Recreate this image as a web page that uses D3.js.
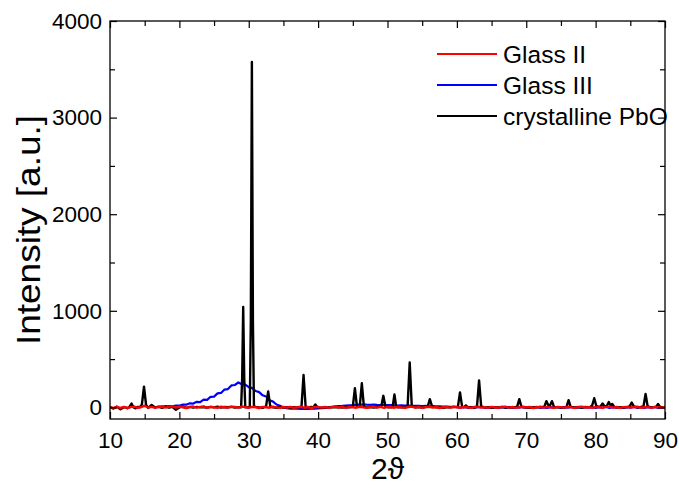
<!DOCTYPE html>
<html>
<head>
<meta charset="utf-8">
<script src="https://cdn.jsdelivr.net/npm/d3@7"></script>
<style>
  body { margin: 0; background: #fff; }
  text { font-family: "Liberation Sans", Arial, sans-serif; fill: #000; }
</style>
</head>
<body>
<svg id="chart" width="679" height="485"></svg>
<script>
// Axis ticks
const xMajorTicks = [10, 20, 30, 40, 50, 60, 70, 80, 90];
const xMinorTicks = [15, 25, 35, 45, 55, 65, 75, 85];
const yMajorTicks = [0, 1000, 2000, 3000, 4000];
const yMinorTicks = [500, 1500, 2500, 3500];

const seriesNames = ["Glass II", "Glass III", "crystalline PbO"];
const seriesColors = ["#ff0000", "#0000ff", "#000000"];

// Glass II: [2θ, intensity]
const glassII = [
  [10,2],[10.5,-8],[11,5],[11.5,-4],[12,6],[12.5,-6],[13,3],[13.5,8],[14,-5],[14.5,4],
  [15,18],[15.5,-3],[16,6],[16.5,-4],[17,3],[17.5,7],[18,-2],[18.5,5],[19,12],[19.5,-3],
  [20,8],[20.5,2],[21,-6],[21.5,4],[22,9],[22.5,-2],[23,5],[23.5,10],[24,-4],[24.5,6],
  [25,1],[25.5,-5],[26,7],[26.5,2],[27,-3],[27.5,8],[28,4],[28.5,-2],[29,9],[29.5,3],
  [30,-4],[30.5,6],[31,2],[31.5,-6],[32,5],[32.5,1],[33,-3],[33.5,7],[34,0],[34.5,-5],
  [35,4],[35.5,-2],[36,6],[36.5,-4],[37,2],[37.5,7],[38,-3],[38.5,4],[39,-6],[39.5,3],
  [40,6],[40.5,-2],[41,4],[41.5,-5],[42,3],[42.5,8],[43,-1],[43.5,5],[44,-4],[44.5,6],
  [45,2],[45.5,-3],[46,7],[46.5,1],[47,-5],[47.5,4],[48,8],[48.5,-2],[49,5],[49.5,-4],
  [50,6],[50.5,2],[51,-3],[51.5,7],[52,0],[52.5,-5],[53,4],[53.5,8],[54,-2],[54.5,5],
  [55,-4],[55.5,3],[56,7],[56.5,-1],[57,4],[57.5,-6],[58,2],[58.5,6],[59,-3],[59.5,5],
  [60,1],[60.5,-4],[61,6],[61.5,2],[62,-5],[62.5,4],[63,7],[63.5,-2],[64,3],[64.5,-4],
  [65,6],[65.5,1],[66,-3],[66.5,5],[67,8],[67.5,-2],[68,4],[68.5,-5],[69,3],[69.5,7],
  [70,-1],[70.5,4],[71,-6],[71.5,2],[72,6],[72.5,-3],[73,5],[73.5,0],[74,-4],[74.5,6],
  [75,3],[75.5,-2],[76,7],[76.5,1],[77,-5],[77.5,4],[78,8],[78.5,-1],[79,3],[79.5,-4],
  [80,6],[80.5,2],[81,-3],[81.5,5],[82,8],[82.5,-2],[83,4],[83.5,-5],[84,3],[84.5,6],
  [85,-2],[85.5,4],[86,7],[86.5,-3],[87,2],[87.5,5],[88,-4],[88.5,6],[89,1],[89.5,-3],[90,4]
];

// Glass III: [2θ, intensity]
const glassIII = [
  [17,5],[17.5,10],[18,8],[18.5,14],[19,12],[19.5,20],[20,18],[20.5,30],[21,28],[21.5,42],
  [22,40],[22.5,58],[23,55],[23.5,80],[24,78],[24.5,110],[25,112],[25.5,145],[26,150],[26.5,185],
  [27,190],[27.5,228],[28,232],[28.5,258],[29,240],[29.5,236],[30,210],[30.5,200],[31,170],[31.5,158],
  [32,125],[32.5,112],[33,75],[33.5,60],[34,30],[34.5,18],[35,0],[35.5,-8],[36,-12],[36.5,-14],
  [37,-12],[37.5,-15],[38,-13],[38.5,-16],[39,-12],[39.5,-14],[40,-10],[40.5,-8],[41,-4],[41.5,0],
  [42,6],[42.5,10],[43,14],[43.5,16],[44,20],[44.5,22],[45,24],[45.5,27],[46,29],[46.5,30],
  [47,28],[47.5,27],[48,29],[48.5,26],[49,25],[49.5,26],[50,24],[50.5,24],[51,22],[51.5,20],
  [52,22],[52.5,18],[53,20],[53.5,17],[54,16],[54.5,16],[55,14],[55.5,15],[56,12],[56.5,13],
  [57,10],[57.5,11],[58,9],[58.5,8],[59,6],[59.5,5],[60,2],[60.5,-3],[61,4],[61.5,-2],
  [62,3],[62.5,-4],[63,2],[63.5,5],[64,-3],[64.5,1],[65,-5],[65.5,3],[66,-2],[66.5,4],
  [67,-4],[67.5,2],[68,-6],[68.5,3],[69,-2],[69.5,4],[70,-5],[70.5,2],[71,-3],[71.5,5],
  [72,-4],[72.5,1],[73,-6],[73.5,3],[74,-2],[74.5,4],[75,-5],[75.5,2],[76,-3],[76.5,4],
  [77,-6],[77.5,2],[78,-4],[78.5,5],[79,-2],[79.5,3],[80,-5],[80.5,2],[81,-3],[81.5,4],
  [82,-5],[82.5,2],[83,-2],[83.5,4],[84,-6],[84.5,3],[85,-3],[85.5,5],[86,-4],[86.5,2],
  [87,-5],[87.5,3],[88,-2],[88.5,4],[89,-5],[89.5,2],[90,-3]
];

// Crystalline PbO: [2θ, intensity]
const pbo = [
  [10,5],[10.5,-12],[11,8],[11.5,-20],[12,3],[12.5,-8],[12.8,5],[13.1,40],[13.4,0],[13.7,-10],
  [14,6],[14.3,2],[14.6,30],[14.9,215],[15.2,25],[15.5,-5],[16,25],[16.5,0],[17,8],[17.5,-5],
  [18,10],[18.5,-3],[19,5],[19.5,-25],[20,0],[20.5,8],[21,-4],[21.5,6],[22,-2],[22.5,5],
  [23,0],[23.5,4],[24,-3],[24.5,6],[25,0],[25.5,8],[26,-2],[26.5,4],[27,1],[27.5,6],
  [28,-2],[28.5,3],[28.9,0],[29.05,300],[29.2,1040],[29.35,300],[29.5,0],[29.8,2],[30.15,5],[30.3,900],
  [30.45,3575],[30.6,900],[30.75,10],[31,5],[31.5,0],[32,-5],[32.5,10],[32.8,165],[33.1,10],[33.5,0],
  [34,-3],[34.5,4],[35,-2],[35.5,3],[36,-4],[36.5,2],[37,0],[37.6,5],[37.9,335],[38.2,5],
  [38.5,0],[39,4],[39.3,0],[39.6,30],[39.9,0],[40.5,-3],[41,2],[41.5,-2],[42,3],[42.5,0],
  [43,4],[43.5,-2],[44,3],[44.5,0],[45,5],[45.3,200],[45.6,5],[46,8],[46.3,250],[46.6,5],
  [47,0],[47.5,3],[48,-2],[48.5,4],[49.1,10],[49.4,120],[49.7,10],[50,2],[50.5,0],[50.75,10],
  [51,135],[51.25,8],[51.5,0],[52,3],[52.5,-2],[52.9,10],[53.2,465],[53.5,10],[54,0],[54.5,3],
  [55,-2],[55.5,4],[55.8,8],[56.1,85],[56.4,15],[56.7,5],[57,0],[57.5,3],[58,-3],[58.5,2],
  [59,0],[59.5,4],[60.15,8],[60.45,155],[60.75,8],[61,0],[61.3,20],[61.6,0],[62,3],[62.5,-2],
  [62.9,10],[63.2,280],[63.5,10],[64,0],[64.5,3],[65,-3],[65.5,2],[66,0],[66.5,4],[67,-2],
  [67.5,3],[68,0],[68.5,3],[68.7,10],[69,85],[69.3,8],[69.6,0],[70,2],[70.5,-3],[71,3],
  [71.5,0],[72,4],[72.6,5],[72.9,65],[73.2,20],[73.45,25],[73.7,65],[74,5],[74.5,0],[75,3],
  [75.5,-2],[75.8,5],[76.1,75],[76.4,5],[77,0],[77.5,3],[78,-2],[78.5,2],[79.2,5],[79.5,20],
  [79.8,95],[80.1,15],[80.4,5],[80.7,10],[81,40],[81.3,10],[81.6,15],[81.9,55],[82.15,20],[82.4,35],
  [82.7,5],[83,0],[83.5,3],[84,-2],[84.5,3],[84.9,10],[85.2,50],[85.5,10],[86,0],[86.5,4],
  [86.9,10],[87.2,140],[87.5,10],[88,0],[88.5,3],[88.75,8],[89,35],[89.25,8],[89.5,0],[90,3]
];

const svg = d3.select("#chart");
const plotLeft = 110, plotRight = 665, plotTop = 21, plotBottom = 419;

const x = d3.scaleLinear().domain([10, 90]).range([plotLeft, plotRight]);
const y = d3.scaleLinear().domain([-120, 4000]).range([plotBottom, plotTop]);

svg.append("defs").append("clipPath").attr("id", "plot-clip")
  .append("rect").attr("x", plotLeft).attr("y", plotTop)
  .attr("width", plotRight - plotLeft).attr("height", plotBottom - plotTop);

// Traces
const line = d3.line().x(d => x(d[0])).y(d => y(d[1]));
const traces = svg.append("g").attr("clip-path", "url(#plot-clip)");
[[glassIII, seriesColors[1], 2.2], [pbo, seriesColors[2], 2.4], [glassII, seriesColors[0], 2.4]]
  .forEach(([data, color, w]) => {
    traces.append("path").datum(data)
      .attr("d", line)
      .attr("fill", "none")
      .attr("stroke", color)
      .attr("stroke-width", w)
      .attr("stroke-linejoin", "round");
  });

// Axes: ticks point into the plot on all four sides
function styleAxis(g) {
  g.select(".domain").remove();
  g.selectAll(".tick line").attr("stroke", "#000").attr("stroke-width", 1.2);
  g.selectAll(".tick text")
    .style("font-family", "'Liberation Sans', Arial, sans-serif")
    .style("font-size", "22.5px").attr("fill", "#000");
}

svg.append("g").attr("transform", `translate(0,${plotBottom})`)
  .call(d3.axisBottom(x).tickValues(xMajorTicks).tickSizeInner(-7).tickSizeOuter(0).tickPadding(13).tickFormat(d3.format("d")))
  .call(styleAxis);
svg.append("g").attr("transform", `translate(0,${plotBottom})`)
  .call(d3.axisBottom(x).tickValues(xMinorTicks).tickSizeInner(-5).tickSizeOuter(0).tickFormat(""))
  .call(styleAxis);
svg.append("g").attr("transform", `translate(0,${plotTop})`)
  .call(d3.axisTop(x).tickValues(xMajorTicks).tickSizeInner(-7).tickSizeOuter(0).tickFormat(""))
  .call(styleAxis);
svg.append("g").attr("transform", `translate(0,${plotTop})`)
  .call(d3.axisTop(x).tickValues(xMinorTicks).tickSizeInner(-5).tickSizeOuter(0).tickFormat(""))
  .call(styleAxis);

svg.append("g").attr("transform", `translate(${plotLeft},0)`)
  .call(d3.axisLeft(y).tickValues(yMajorTicks).tickSizeInner(-7).tickSizeOuter(0).tickPadding(8).tickFormat(d3.format("d")))
  .call(styleAxis);
svg.append("g").attr("transform", `translate(${plotLeft},0)`)
  .call(d3.axisLeft(y).tickValues(yMinorTicks).tickSizeInner(-5).tickSizeOuter(0).tickFormat(""))
  .call(styleAxis);
svg.append("g").attr("transform", `translate(${plotRight},0)`)
  .call(d3.axisRight(y).tickValues(yMajorTicks).tickSizeInner(-7).tickSizeOuter(0).tickFormat(""))
  .call(styleAxis);
svg.append("g").attr("transform", `translate(${plotRight},0)`)
  .call(d3.axisRight(y).tickValues(yMinorTicks).tickSizeInner(-5).tickSizeOuter(0).tickFormat(""))
  .call(styleAxis);

// Frame
svg.append("rect")
  .attr("x", plotLeft).attr("y", plotTop)
  .attr("width", plotRight - plotLeft).attr("height", plotBottom - plotTop)
  .attr("fill", "none").attr("stroke", "#000").attr("stroke-width", 1.3);

// Axis titles
svg.append("text")
  .attr("transform", `translate(40,230) rotate(-90)`)
  .attr("text-anchor", "middle")
  .attr("textLength", 230)
  .attr("lengthAdjust", "spacingAndGlyphs")
  .style("font-size", "33px")
  .text("Intensity [a.u.]");

svg.append("text")
  .attr("x", (plotLeft + plotRight) / 2).attr("y", 479)
  .attr("text-anchor", "middle")
  .style("font-size", "30px")
  .text("2ϑ");

// Legend
const legend = svg.append("g");
seriesNames.forEach((name, i) => {
  const ly = 54 + i * 31;
  legend.append("line")
    .attr("x1", 437).attr("x2", 497).attr("y1", ly).attr("y2", ly)
    .attr("stroke", seriesColors[i]).attr("stroke-width", 2.2);
  legend.append("text")
    .attr("x", 503).attr("y", ly + 9)
    .style("font-size", "24.5px")
    .text(name);
});
</script>
</body>
</html>
